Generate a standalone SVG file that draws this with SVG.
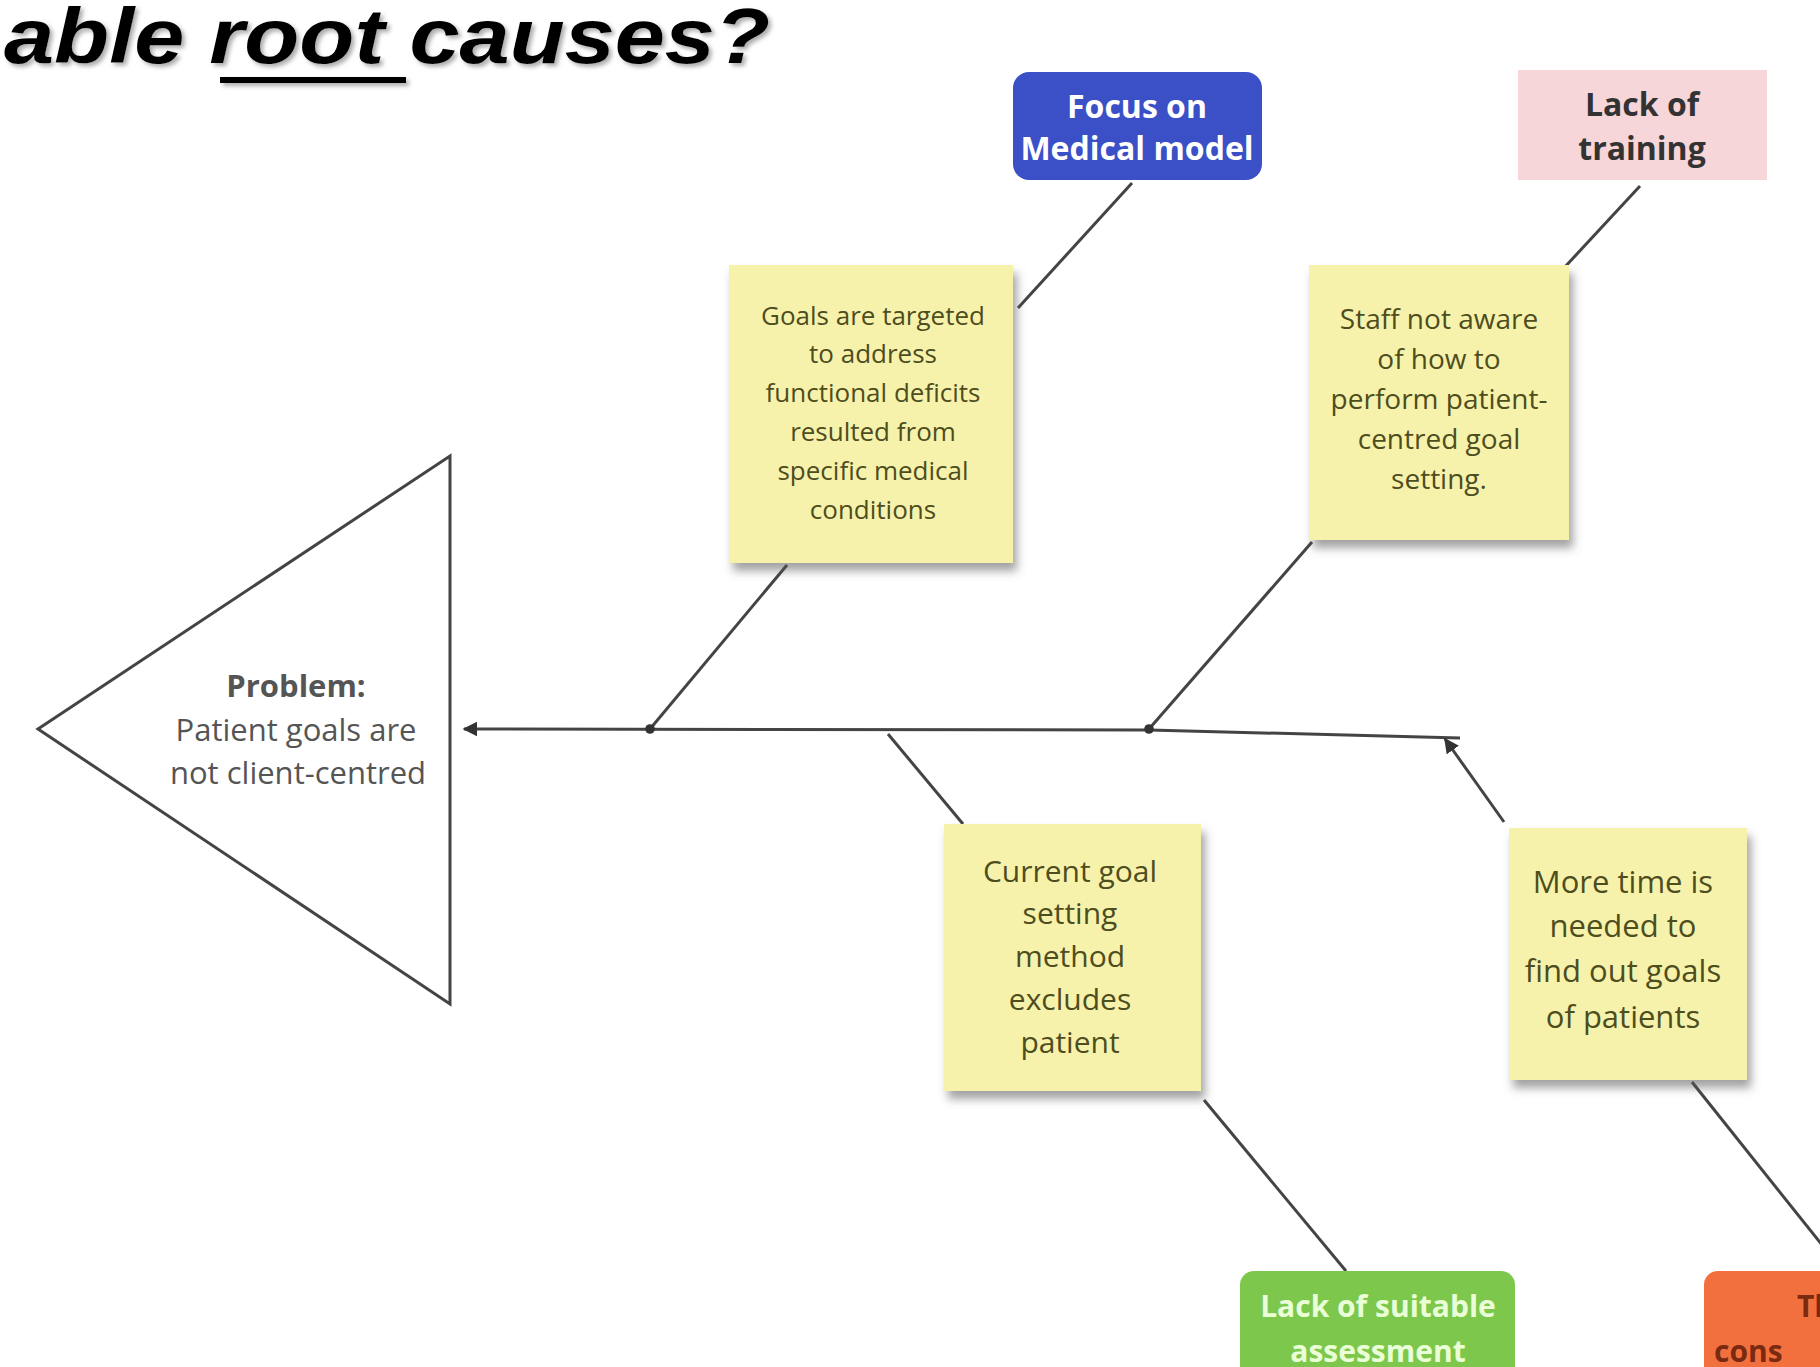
<svg xmlns="http://www.w3.org/2000/svg" width="1820" height="1367" viewBox="0 0 1820 1367">
<defs>
<style>
.title{font-family:"Liberation Sans",Arial,sans-serif;font-weight:bold;font-style:italic;font-size:78px;fill:#000}
.sticky{fill:#f7f2ab}
.st{font-family:"Open Sans","Liberation Sans",Arial,sans-serif;fill:#4d4d1e;text-anchor:middle}
.bt{font-family:"Open Sans","Liberation Sans",Arial,sans-serif;font-weight:bold}
.mid{text-anchor:middle}
.pt{font-family:"Open Sans","Liberation Sans",Arial,sans-serif;fill:#555;text-anchor:middle;font-size:31px}
.ln{stroke:#444;stroke-width:3;fill:none}
</style>
<filter id="shadow" x="-10%" y="-10%" width="130%" height="130%">
<feDropShadow dx="4" dy="8" stdDeviation="5" flood-color="#555" flood-opacity="0.55"/>
</filter>
<filter id="tshadow" x="-5%" y="-20%" width="110%" height="150%">
<feDropShadow dx="3" dy="3" stdDeviation="2" flood-color="#777" flood-opacity="0.6"/>
</filter>
<marker id="arr" viewBox="0 0 10 10" refX="9" refY="5" markerWidth="5" markerHeight="5" orient="auto-start-reverse">
<path d="M0,0 L10,5 L0,10 z" fill="#333"/>
</marker>
<marker id="dot" viewBox="0 0 10 10" refX="5" refY="5" markerWidth="4" markerHeight="4">
<circle cx="5" cy="5" r="4" fill="#333"/>
</marker>
</defs>
<rect width="1820" height="1367" fill="#ffffff"/>

<g id="title" filter="url(#tshadow)">
<text class="title" x="4" y="63" textLength="766" lengthAdjust="spacingAndGlyphs">able root causes?</text>
<rect x="220" y="77" width="186" height="6" fill="#000"/>
</g>

<g id="connectors">
<polyline class="ln" points="464,729 1149,730 1460,738" marker-start="url(#arr)"/>
<line class="ln" x1="787" y1="565" x2="650" y2="729" marker-end="url(#dot)"/>
<line class="ln" x1="1018" y1="308" x2="1132" y2="183"/>
<line class="ln" x1="1312" y1="542" x2="1149" y2="729" marker-end="url(#dot)"/>
<line class="ln" x1="1563" y1="269" x2="1640" y2="186"/>
<line class="ln" x1="888" y1="734" x2="963" y2="824"/>
<line class="ln" x1="1204" y1="1100" x2="1346" y2="1271"/>
<line class="ln" x1="1504" y1="822" x2="1445" y2="739" marker-end="url(#arr)"/>
<line class="ln" x1="1692" y1="1082" x2="1830" y2="1255"/>
</g>

<g id="problem">
<polygon points="38,729 450,456 450,1004" fill="#fff" stroke="#444" stroke-width="3"/>
<text class="pt" x="296" y="697" font-weight="bold">Problem:</text>
<text class="pt" x="296" y="741">Patient goals are</text>
<text class="pt" x="298" y="784">not client-centred</text>
</g>

<g id="focus-medical">
<rect x="1013" y="72" width="249" height="108" rx="16" fill="#3b4fc6"/>
<text class="bt mid" font-size="32" x="1137" y="118" fill="#fff">Focus on</text>
<text class="bt mid" font-size="32" x="1137" y="160" fill="#fff">Medical model</text>
</g>

<g id="lack-training">
<rect x="1518" y="70" width="249" height="110" fill="#f6d6d8"/>
<text class="bt mid" font-size="32" x="1642" y="116" fill="#333">Lack of</text>
<text class="bt mid" font-size="32" x="1642" y="160" fill="#333">training</text>
</g>

<g id="goals-targeted">
<rect class="sticky" x="729" y="265" width="284" height="298" filter="url(#shadow)"/>
<text class="st" font-size="26" x="873" y="325">Goals are targeted</text>
<text class="st" font-size="26" x="873" y="363">to address</text>
<text class="st" font-size="26" x="873" y="402">functional deficits</text>
<text class="st" font-size="26" x="873" y="441">resulted from</text>
<text class="st" font-size="26" x="873" y="480">specific medical</text>
<text class="st" font-size="26" x="873" y="519">conditions</text>
</g>

<g id="staff-not-aware">
<rect class="sticky" x="1309" y="265" width="260" height="275" filter="url(#shadow)"/>
<text class="st" font-size="28" x="1439" y="329">Staff not aware</text>
<text class="st" font-size="28" x="1439" y="369">of how to</text>
<text class="st" font-size="28" x="1439" y="409">perform patient-</text>
<text class="st" font-size="28" x="1439" y="449">centred goal</text>
<text class="st" font-size="28" x="1439" y="489">setting.</text>
</g>

<g id="current-goal">
<rect class="sticky" x="944" y="824" width="257" height="267" filter="url(#shadow)"/>
<text class="st" font-size="30" x="1070" y="882">Current goal</text>
<text class="st" font-size="30" x="1070" y="924">setting</text>
<text class="st" font-size="30" x="1070" y="967">method</text>
<text class="st" font-size="30" x="1070" y="1010">excludes</text>
<text class="st" font-size="30" x="1070" y="1053">patient</text>
</g>

<g id="more-time">
<rect class="sticky" x="1509" y="828" width="238" height="252" filter="url(#shadow)"/>
<text class="st" font-size="31" x="1623" y="893">More time is</text>
<text class="st" font-size="31" x="1623" y="937">needed to</text>
<text class="st" font-size="31" x="1623" y="982">find out goals</text>
<text class="st" font-size="31" x="1623" y="1028">of patients</text>
</g>

<g id="lack-assessment">
<rect x="1240" y="1271" width="275" height="120" rx="14" fill="#7dc84c"/>
<text class="bt mid" font-size="30" x="1378" y="1317" fill="#eaffd8">Lack of suitable</text>
<text class="bt mid" font-size="30" x="1378" y="1362" fill="#eaffd8">assessment</text>
</g>

<g id="time-consuming">
<rect x="1704" y="1271" width="140" height="120" rx="14" fill="#f2703e"/>
<text class="bt" font-size="30" x="1797" y="1317" fill="#7a2a10">Th</text>
<text class="bt" font-size="30" x="1714" y="1362" fill="#7a2a10">cons</text>
</g>
</svg>
